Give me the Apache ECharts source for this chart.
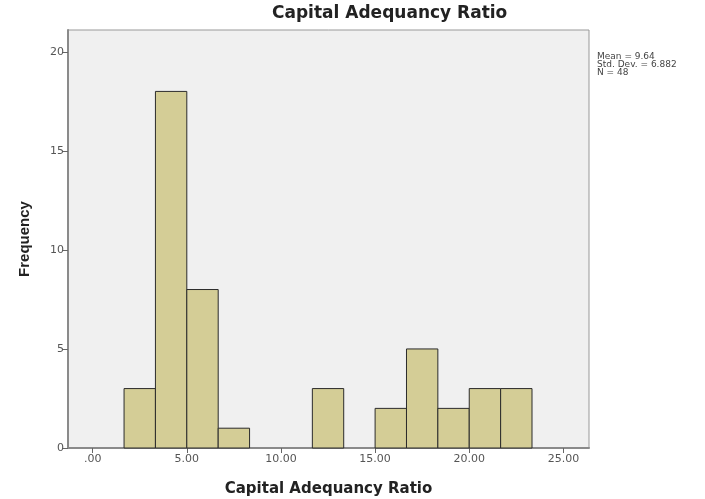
<!DOCTYPE html>
<html>
<head>
<meta charset="utf-8">
<script src="https://cdn.jsdelivr.net/npm/echarts@6/dist/echarts.min.js"></script>
<style>
html,body{margin:0;padding:0;background:#fff;}
#chart{width:705px;height:499px;}
</style>
</head>
<body>
<div id="chart"></div>
<script>
// Histogram data (bin edges and frequencies)
const binStarts = [1.667, 3.333, 5.0, 6.667, 11.667, 15.0, 16.667, 18.333, 20.0, 21.667];
const binEnds   = [3.333, 5.0, 6.667, 8.333, 13.333, 16.667, 18.333, 20.0, 21.667, 23.333];
const counts    = [3, 18, 8, 1, 3, 2, 5, 2, 3, 3];
const xTickValues = [0, 5, 10, 15, 20, 25];
const yTickValues = [0, 5, 10, 15, 20];
const statsLines = ['Mean = 9.64', 'Std. Dev. = 6.882', 'N = 48'];
const chartTitle = 'Capital Adequancy Ratio';
const xTitle = 'Capital Adequancy Ratio';
const yTitle = 'Frequency';

const data = binStarts.map((s, i) => [s, binEnds[i], counts[i]]);

const chart = echarts.init(document.getElementById('chart'));
const option = {
  animation: false,
  backgroundColor: '#ffffff',
  grid: {
    left: 68, right: 116, top: 30, bottom: 51,
    outerBoundsMode: 'none', containLabel: false,
    show: true, backgroundColor: '#f0f0f0', borderColor: '#999999', borderWidth: 1
  },
  xAxis: {
    type: 'value', min: -1.31, max: 26.36,
    splitLine: { show: false },
    axisLine: { show: true, onZero: false, lineStyle: { color: '#8a8a8a', width: 2 } },
    axisTick: { show: true, customValues: xTickValues, length: 5, lineStyle: { color: '#666' } },
    axisLabel: {
      customValues: xTickValues, color: '#555', fontFamily: 'DejaVu Sans', fontSize: 11, margin: 6,
      formatter: v => v === 0 ? '.00' : v.toFixed(2)
    },
    name: xTitle, nameLocation: 'middle', nameGap: 34,
    nameTextStyle: { fontFamily: 'DejaVu Sans', fontWeight: 'bold', fontSize: 15, color: '#222' }
  },
  yAxis: {
    type: 'value', min: 0, max: 21.1,
    splitLine: { show: false },
    axisLine: { show: true, onZero: false, lineStyle: { color: '#8a8a8a', width: 2 } },
    axisTick: { show: true, customValues: yTickValues, length: 6, lineStyle: { color: '#666' } },
    axisLabel: { customValues: yTickValues, color: '#555', fontFamily: 'DejaVu Sans', fontSize: 11, margin: 4 },
    name: yTitle, nameLocation: 'middle', nameGap: 36, nameRotate: 90,
    nameTextStyle: { fontFamily: 'Liberation Sans', fontWeight: 'bold', fontSize: 15, color: '#222' }
  },
  graphic: [
    {
      type: 'text', left: 272, top: 5,
      style: { text: chartTitle, fontFamily: 'DejaVu Sans', fontWeight: 'bold', fontSize: 17, fill: '#222' }
    },
    {
      type: 'text', left: 597, top: 52,
      style: { text: statsLines.join('\n'), fontFamily: 'DejaVu Sans', fontSize: 9, lineHeight: 8, fill: '#444' }
    }
  ],
  series: [{
    type: 'custom',
    data: data,
    encode: { x: [0, 1], y: 2 },
    renderItem: function (params, api) {
      const p0 = api.coord([api.value(0), 0]);
      const p1 = api.coord([api.value(1), api.value(2)]);
      return {
        type: 'rect',
        shape: { x: p0[0], y: p1[1], width: p1[0] - p0[0], height: p0[1] - p1[1] },
        style: { fill: '#d4cd96', stroke: '#2b2b2b', lineWidth: 1 }
      };
    }
  }]
};
chart.setOption(option);
</script>
</body>
</html>
